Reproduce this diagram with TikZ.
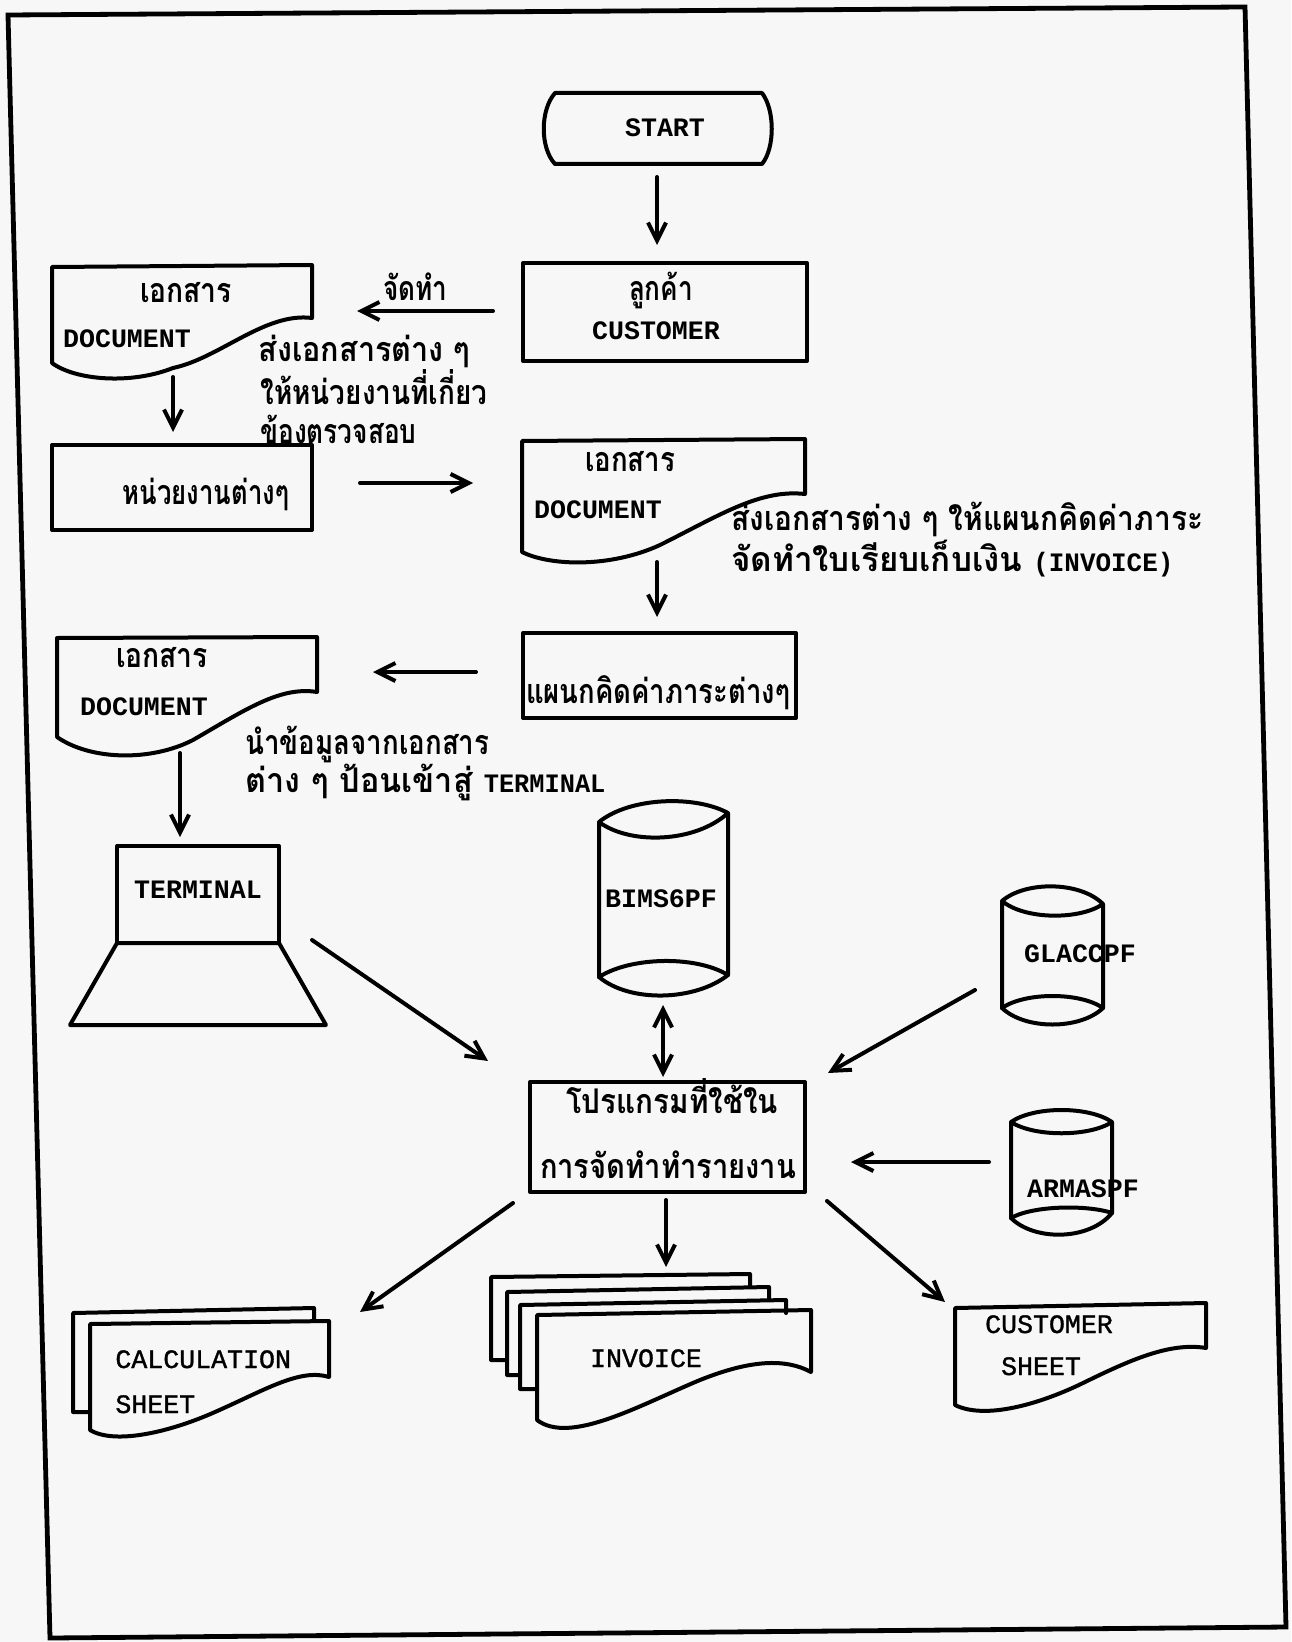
\documentclass[tikz,border=0pt]{standalone}
\usepackage{fontspec}
\usepackage{graphicx}
\usetikzlibrary{arrows.meta}
\newfontfamily\thai[Script=Thai]{Loma}
\newfontfamily\lat{Liberation Mono}
\newfontfamily\latm[FakeBold=1.2]{Liberation Mono}
\newcommand{\tw}[2]{\resizebox{#1pt}{\height}{#2}}
\newcommand{\mono}{\lat\bfseries\fontsize{13.3}{15}\selectfont}
\begin{document}
\begin{tikzpicture}[x=0.5pt,y=-0.5pt,
  ln/.style={line width=2pt, line join=round, line cap=round},
  frm/.style={line width=2.4pt, line join=miter},
  arr/.style={ln, -{Straight Barb[length=9pt,width=9pt]}},
  darr/.style={ln, {Straight Barb[length=9pt,width=9pt]}-{Straight Barb[length=9pt,width=9pt]}},
  thl/.style={font=\thai\bfseries\fontsize{17}{19}\selectfont, inner sep=0pt, anchor=base},
  thw/.style={thl, anchor=base west},
  latb/.style={font=\lat\bfseries\fontsize{13.3}{15}\selectfont, inner sep=0pt, anchor=base},
  latr/.style={font=\latm\fontsize{13.3}{15}\selectfont, inner sep=0pt, anchor=base},
  latrw/.style={latr, anchor=base west}]
\useasboundingbox (0,0) rectangle (1291,1642);
\fill[black!3] (0,0) rectangle (1291,1642);
% frame
\draw[frm] (8,15) -- (1245,7) -- (1286,1627) -- (50,1638) -- cycle;

% ---------- START ----------
\draw[ln] (555,93) -- (762,93) .. controls (775,110) and (775,148) .. (762,164)
  -- (555,164) .. controls (540,148) and (540,110) .. (555,93) -- cycle;
\node[latb] (tstart) at (665,137) {START};

% ---------- CUSTOMER ----------
\draw[ln] (523,263) rectangle (807,361);
\node[thl] (tcust1) at (661,301) {\tw{32}{ลูกค้า}};
\node[latb] (tcust2) at (656,340) {CUSTOMER};

% ---------- Document 1 ----------
\draw[ln] (52,267) -- (312,265) -- (312,318) .. controls (265,312) and (220,358) .. (173,368)
  .. controls (130,385) and (75,380) .. (52,363) -- cycle;
\node[thl] (td1a) at (186,302) {\tw{46}{เอกสาร}};
\node[latb] (td1b) at (127,348) {DOCUMENT};

\node[thl] (tjad) at (415,301) {\tw{32}{จัดทำ}};
\node[thw] (tl1) at (258,362) {\tw{106}{ส่งเอกสารต่าง ๆ}};
\node[thw] (tl2) at (260,404) {\tw{113.5}{ให้หน่วยงานที่เกี่ยว}};
\node[thw] (tl3) at (260,443) {\tw{78}{ข้องตรวจสอบ}};

% ---------- หน่วยงานต่างๆ ----------
\draw[ln] (52,445) rectangle (312,530);
\node[thl] (tunit) at (206,504) {\tw{83}{หน่วยงานต่างๆ}};

% ---------- Document 2 ----------
\draw[ln] (522,441) -- (805,439) -- (805,494) .. controls (760,489) and (720,515) .. (660,545)
  .. controls (610,568) and (550,566) .. (522,552) -- cycle;
\node[thl] (td2a) at (630,471) {\tw{45}{เอกสาร}};
\node[latb] (td2b) at (598,518) {DOCUMENT};
\node[thw] (tm1) at (731,530) {\tw{236}{ส่งเอกสารต่าง ๆ ให้แผนกคิดค่าภาระ}};
\node[thw] (tm2) at (731,571) {\tw{221}{จัดทำใบเรียบเก็บเงิน {\mono (INVOICE)}}};

% ---------- แผนกคิดค่าภาระต่างๆ ----------
\draw[ln] (523,633) rectangle (796,718);
\node[thl] (tdept) at (658,703) {\tw{132}{แผนกคิดค่าภาระต่างๆ}};

% ---------- Document 3 ----------
\draw[ln] (57,638) -- (317,637) -- (317,692) .. controls (280,686) and (245,710) .. (193,740)
  .. controls (150,762) and (90,760) .. (57,737) -- cycle;
\node[thl] (td3a) at (162,667) {\tw{46}{เอกสาร}};
\node[latb] (td3b) at (144,715) {DOCUMENT};
\node[thw] (tn1) at (245,754) {\tw{122}{นำข้อมูลจากเอกสาร}};
\node[thw] (tn2) at (245,792) {\tw{180}{ต่าง ๆ ป้อนเข้าสู่ {\mono TERMINAL}}};

% ---------- TERMINAL ----------
\draw[ln] (117,846) rectangle (279,943);
\draw[ln] (117,943) -- (279,943) -- (326,1025) -- (70,1025) -- cycle;
\node[latb] (tterm) at (198,898) {TERMINAL};

% ---------- BIMS6PF ----------
\draw[ln] (599,822) .. controls (630,797) and (695,795) .. (728,813)
  .. controls (695,843) and (630,845) .. (599,822) -- (599,977)
  .. controls (630,1003) and (695,1001) .. (728,975) -- (728,813);
\draw[ln] (599,977) .. controls (630,957) and (695,955) .. (728,975);
\node[latb] (tbims) at (661,907) {BIMS6PF};

% ---------- GLACCPF ----------
\draw[ln] (1002,901) .. controls (1025,881) and (1080,881) .. (1103,904)
  .. controls (1080,920) and (1025,920) .. (1002,901) -- (1002,1008)
  .. controls (1025,1030) and (1080,1030) .. (1103,1008) -- (1103,904);
\draw[ln] (1002,1008) .. controls (1025,992) and (1080,992) .. (1103,1008);
\node[latb] (tglac) at (1080,962) {GLACCPF};

% ---------- ARMASPF ----------
\draw[ln] (1011,1122) .. controls (1034,1106) and (1089,1106) .. (1112,1122)
  .. controls (1089,1137) and (1034,1137) .. (1011,1122) -- (1011,1218)
  .. controls (1034,1241) and (1089,1241) .. (1112,1213) -- (1112,1122);
\draw[ln] (1011,1218) .. controls (1034,1205) and (1089,1205) .. (1112,1213);
\node[latb] (tarma) at (1083,1197) {ARMASPF};

% ---------- Program ----------
\draw[ln] (530,1082) rectangle (805,1192);
\node[thl] (tprog1) at (672,1113) {\tw{106}{โปรแกรมที่ใช้ใน}};
\node[thl] (tprog2) at (668,1178) {\tw{128}{การจัดทำทำรายงาน}};

% ---------- CALCULATION SHEET ----------
\draw[ln] (314,1321) -- (314,1308) -- (73,1313) -- (73,1412) -- (90,1412);
\draw[ln] (90,1324) -- (329,1321) -- (329,1377) .. controls (300,1368) and (265,1390) .. (215,1412)
  .. controls (170,1432) and (115,1445) .. (90,1430) -- cycle;
\node[latrw] (tcalc1) at (115,1368) {CALCULATION};
\node[latrw] (tcalc2) at (115,1413) {SHEET};

% ---------- INVOICE ----------
\draw[ln] (750,1287) -- (750,1274) -- (491,1277) -- (491,1360) -- (507,1360);
\draw[ln] (769,1300) -- (769,1287) -- (507,1292) -- (507,1375) -- (520,1375);
\draw[ln] (786,1313) -- (786,1300) -- (520,1305) -- (520,1389) -- (537,1389);
\draw[ln] (537,1315) -- (811,1310) -- (811,1372) .. controls (785,1358) and (750,1360) .. (700,1380)
  .. controls (640,1405) and (570,1445) .. (537,1420) -- cycle;
\node[latr] (tinv) at (646,1367) {INVOICE};

% ---------- CUSTOMER SHEET ----------
\draw[ln] (955,1308) -- (1206,1303) -- (1206,1348) .. controls (1170,1342) and (1130,1360) .. (1083,1383)
  .. controls (1040,1404) and (985,1420) .. (955,1405) -- cycle;
\node[latr] (tcs1) at (1049,1333) {CUSTOMER};
\node[latr] (tcs2) at (1041,1375) {SHEET};

% ---------- connectors ----------
\coordinate (start-s) at (657,177);  \coordinate (cust-n) at (657,245);
\coordinate (cust-w) at (493,311);   \coordinate (d1-e) at (357,311);
\coordinate (d1-s) at (173,377);     \coordinate (unit-n) at (173,432);
\coordinate (unit-e) at (360,483);   \coordinate (d2-w) at (473,483);
\coordinate (d2-s) at (657,562);     \coordinate (dept-n) at (657,617);
\coordinate (dept-w) at (476,672);   \coordinate (d3-e) at (373,672);
\coordinate (d3-s) at (180,753);     \coordinate (term-n) at (180,837);
\coordinate (term-e) at (312,940);   \coordinate (prog-nw) at (488,1061);
\coordinate (bims-s) at (663,1005);  \coordinate (prog-n) at (663,1077);
\coordinate (glac-w) at (975,990);   \coordinate (prog-ne) at (828,1073);
\coordinate (arma-w) at (989,1162);  \coordinate (prog-e) at (851,1162);
\coordinate (prog-sw) at (513,1203); \coordinate (calc-ne) at (360,1312);
\coordinate (prog-s) at (666,1200);  \coordinate (inv-n) at (666,1267);
\coordinate (prog-se) at (827,1201); \coordinate (cs-nw) at (945,1302);

\draw[arr] (start-s) -- (cust-n);
\draw[arr] (cust-w) -- (d1-e);
\draw[arr] (d1-s) -- (unit-n);
\draw[arr] (unit-e) -- (d2-w);
\draw[arr] (d2-s) -- (dept-n);
\draw[arr] (dept-w) -- (d3-e);
\draw[arr] (d3-s) -- (term-n);
\draw[arr] (term-e) -- (prog-nw);
\draw[darr] (bims-s) -- (prog-n);
\draw[arr] (glac-w) -- (prog-ne);
\draw[arr] (arma-w) -- (prog-e);
\draw[arr] (prog-sw) -- (calc-ne);
\draw[arr] (prog-s) -- (inv-n);
\draw[arr] (prog-se) -- (cs-nw);
\end{tikzpicture}
\end{document}
